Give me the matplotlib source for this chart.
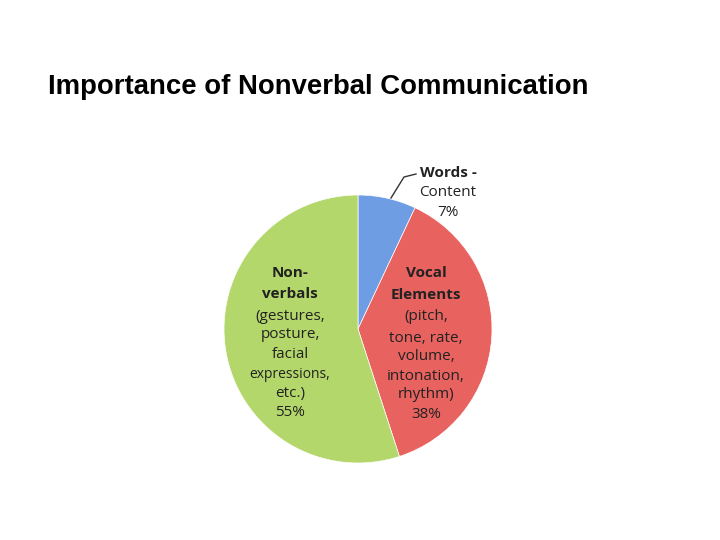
import matplotlib
matplotlib.use("Agg")
import matplotlib.pyplot as plt

categories = ["Words - Content", "Vocal Elements", "Non-verbals"]
values = [7, 38, 55]
colors = ["#6f9de3", "#e8625f", "#b3d76a"]

fig = plt.figure(figsize=(7.2, 5.4), dpi=100)
fig.text(48/720, 1-87/540, "Importance of Nonverbal Communication",
         fontsize=19.8, fontweight="bold", family="Liberation Sans", va="center", ha="left")

ax = fig.add_axes([(358-134)/720, (540-329-134)/540, 268/720, 268/540])
ax.pie(values, colors=colors, startangle=90, counterclock=False,
       wedgeprops=dict(linewidth=0.5, edgecolor="white"))
ax.set_xlim(-1, 1); ax.set_ylim(-1, 1)
ax.set_aspect("equal"); ax.axis("off")

def t(px, py, s, bold=False, size=11):
    ax.text((px-358)/134, (329-py)/134, s, ha="center", va="center",
            fontsize=size, fontweight="bold" if bold else "normal",
            family="Open Sans", color="#222222", clip_on=False)

t(448, 173, "Words -", True)
t(448, 193, "Content")
t(448, 212, f"{values[0]}%")
ax.plot([(391-358)/134, (404-358)/134, (416-358)/134],
        [(329-198)/134, (329-177)/134, (329-174)/134], color="#333333", lw=1, clip_on=False)

for py, s, b in [(273, "Vocal", True), (295, "Elements", True), (317, "(pitch,", False),
                 (338, "tone, rate,", False), (357, "volume,", False), (376, "intonation,", False),
                 (395, "rhythm)", False), (414, f"{values[1]}%", False)]:
    t(426, py, s, b)

for py, s, b, sz in [(273, "Non-", True, 11), (294, "verbals", True, 11), (316, "(gestures,", False, 11),
                     (335, "posture,", False, 11), (354, "facial", False, 11),
                     (374, "expressions,", False, 10), (394, "etc.)", False, 11),
                     (413, f"{values[2]}%", False, 11)]:
    t(290, py, s, b, sz)

fig.savefig("out.png", dpi=100)
